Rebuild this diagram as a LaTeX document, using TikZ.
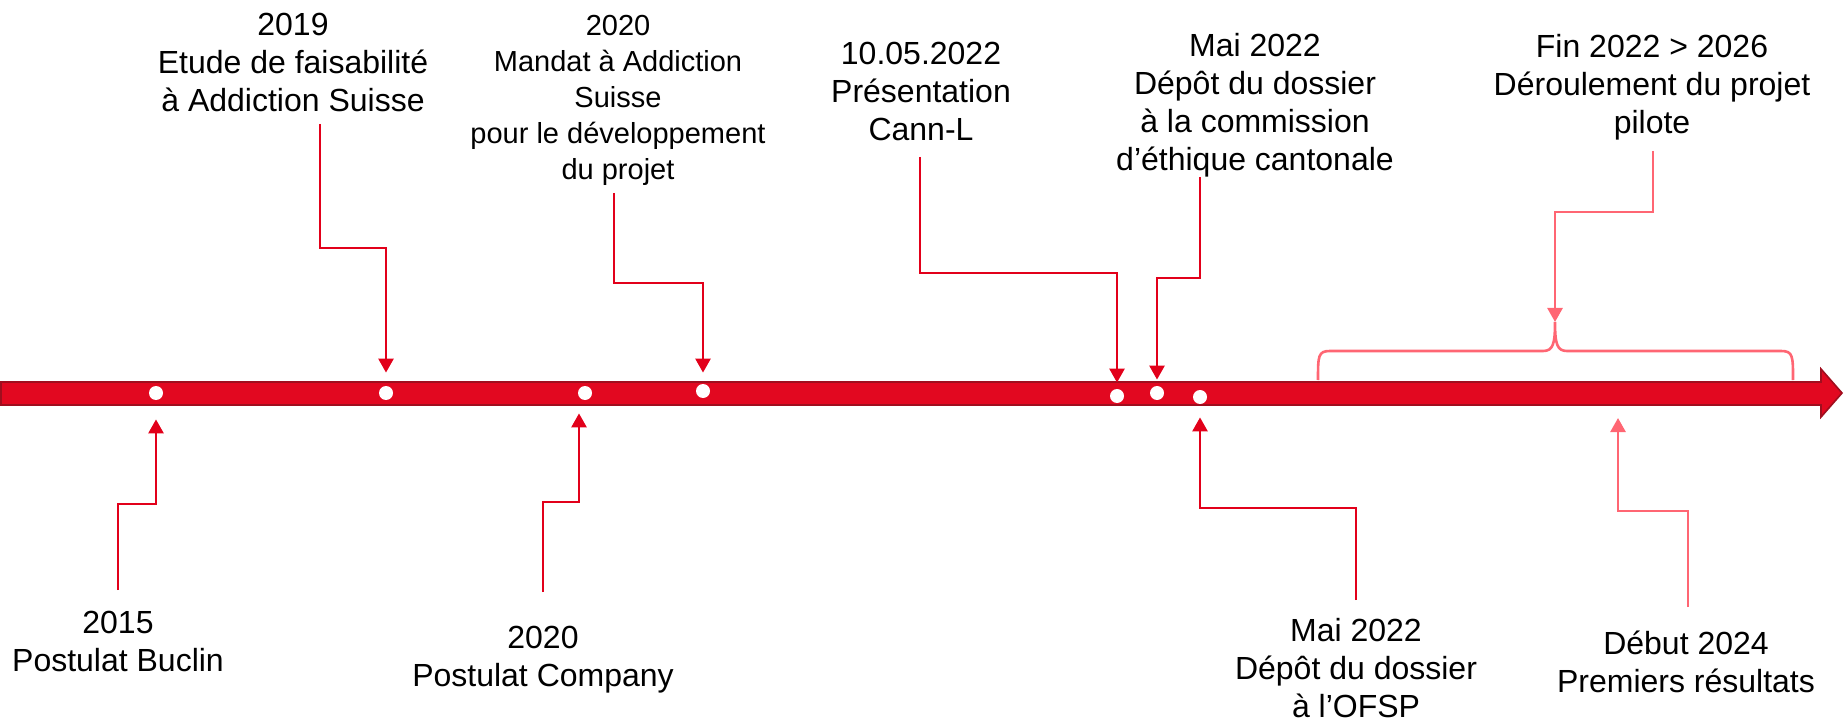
\documentclass[tikz,border=0pt]{standalone}
\usepackage{fontspec}
\setmainfont{Liberation Sans}
\usetikzlibrary{arrows.meta}
\definecolor{barred}{RGB}{226,8,32}
\definecolor{bardark}{RGB}{160,14,30}
\definecolor{linkred}{RGB}{226,0,26}
\definecolor{linkpink}{RGB}{255,102,115}

\begin{document}
\begin{tikzpicture}[x=0.5pt, y=-0.5pt,
    dot/.style={circle, fill=white, inner sep=0, minimum size=7pt},
    lbl/.style={align=center, inner sep=0, font=\fontsize{16}{19}\selectfont},
    link/.style={linkred, line width=1.3pt, -{Triangle[length=7pt,width=7.5pt]}}]
    \useasboundingbox (0,0) rectangle (1845,721);
    \fill[barred, draw=bardark, line width=0.8pt] (1,382) -- (1821,382) -- (1821,369) -- (1842,393) -- (1821,417) -- (1821,405) -- (1,405) -- cycle;
    \foreach \n/\x/\y in {d1/156/393, d2/386/393, d3/585/393, d4/703/391, d5/1117/396, d6/1157/393, d7/1200/397}
        \node[dot] (\n) at (\x,\y) {};
    \node[lbl] (n2019) at (293,62) {2019\\Etude de faisabilité\\à Addiction Suisse};
    \node[lbl, font=\fontsize{14.5}{18}\selectfont] (n2020m) at (618,100) {2020\\Mandat à Addiction\\Suisse\\pour le développement\\du projet};
    \node[lbl] (n1005) at (921,91) {10.05.2022\\Présentation\\Cann-L};
    \node[lbl] (nmaia) at (1255,105) {Mai 2022\\Dépôt du dossier\\à la commission\\d’éthique cantonale};
    \node[lbl] (nfin) at (1652,87) {Fin 2022 > 2026\\Déroulement du projet\\pilote};
    \node[lbl] (n2015) at (118,641) {2015\\Postulat Buclin};
    \node[lbl] (n2020p) at (543,660) {2020\\Postulat Company};
    \node[lbl] (nmaib) at (1356,668) {Mai 2022\\Dépôt du dossier\\à l’OFSP};
    \node[lbl] (ndeb) at (1686,662) {Début 2024\\Premiers résultats};
    \coordinate (s2019) at (320,124);
    \coordinate (s2020m) at (614,193);
    \coordinate (scann) at (920,157);
    \coordinate (smaia) at (1200,177);
    \coordinate (sfin) at (1653,151);
    \coordinate (s2015) at (118,590);
    \coordinate (s2020p) at (543,592);
    \coordinate (smaib) at (1356,600);
    \coordinate (sdeb) at (1688,607);
    \coordinate (brtip) at (1555,322);
    \coordinate (tdeb) at (1618,418);
    \draw[linkpink, line width=1.3pt] (1318,380) .. controls (1318,356) and (1318,351) .. (1330,351) -- (1543,351) .. controls (1553,351) and (1555,344) .. (brtip) .. controls (1555,344) and (1557,351) .. (1567,351) -- (1781,351) .. controls (1793,351) and (1793,356) .. (1793,380);
    \draw[link, shorten >=6.5pt] (s2019) -- ++(0,124) -| (d2.north);
    \draw[link, shorten >=5.5pt] (s2020m) -- ++(0,90) -| (d4.north);
    \draw[link, shorten >=3pt] (scann) -- ++(0,116) -| (d5.north);
    \draw[link, shorten >=3pt] (smaia) -- ++(0,101) -| (d6.north);
    \draw[link, linkpink] (sfin) -- ++(0,61) -| (brtip);
    \draw[link, shorten >=9.5pt] (s2015) -- ++(0,-86) -| (d1.south);
    \draw[link, shorten >=6.5pt] (s2020p) -- ++(0,-90) -| ([xshift=-3pt]d3.south);
    \draw[link, shorten >=6.5pt] (smaib) -- ++(0,-92) -| (d7.south);
    \draw[link, linkpink] (sdeb) -- ++(0,-96) -| (tdeb);
\end{tikzpicture}
\end{document}
